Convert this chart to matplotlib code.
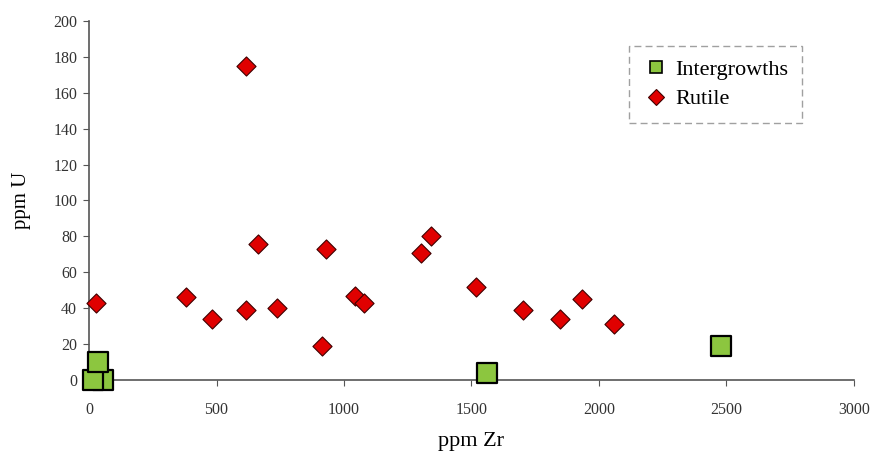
import matplotlib
matplotlib.use("Agg")
import matplotlib.pyplot as plt
from matplotlib.lines import Line2D

plt.rcParams['font.family'] = ['Liberation Serif', 'DejaVu Serif']

# --- data (ppm) ---
rutile_zr = [27, 380, 482, 616, 616, 663, 737, 914, 929, 1043, 1078, 1302, 1341, 1518, 1702, 1847, 1933, 2059]
rutile_u  = [43, 46, 34, 175, 39, 76, 40, 19, 73, 47, 43, 71, 80, 52, 39, 34, 45, 31]

inter_zr = [55, 15, 35, 1561, 2478]
inter_u  = [0, 0, 10, 4, 19]

fig = plt.figure(figsize=(8.73, 4.54), dpi=100)
ax = fig.add_axes([0.102, 0.163, 0.876, 0.791])

ax.scatter(inter_zr, inter_u, marker="s", s=190, facecolor="#8cc63f",
           edgecolor="black", linewidth=1.6, zorder=3, clip_on=False)
ax.scatter(rutile_zr, rutile_u, marker="D", s=95, facecolor="#e00000",
           edgecolor="#400000", linewidth=0.8, zorder=4, clip_on=False)

ax.set_xlim(0, 3000)
ax.set_ylim(0, 200)
ax.set_xticks(range(0, 3001, 500))
ax.set_yticks(range(0, 201, 20))
for s in ["top", "right"]:
    ax.spines[s].set_visible(False)
for s in ["left", "bottom"]:
    ax.spines[s].set_color("#555555")
    ax.spines[s].set_linewidth(1.2)
ax.tick_params(direction="out", length=4, color="#555555", labelsize=11.5,
               labelcolor="#333333")
ax.tick_params(axis="x", pad=12)
ax.tick_params(axis="y", pad=4.5)
ax.set_xlabel("ppm Zr", fontsize=16, labelpad=10)
ax.set_ylabel("ppm U", fontsize=15, labelpad=16)

handles = [
    Line2D([], [], marker="s", linestyle="none", markersize=9,
           markerfacecolor="#8cc63f", markeredgecolor="black", markeredgewidth=1.2),
    Line2D([], [], marker="D", linestyle="none", markersize=8,
           markerfacecolor="#e00000", markeredgecolor="#400000", markeredgewidth=0.8),
]
leg = ax.legend(handles, ["Intergrowths", "Rutile"], loc="upper right",
                bbox_to_anchor=(802 / 873, 1 - 46 / 454),
                bbox_transform=fig.transFigure, fontsize=16, frameon=True,
                fancybox=False, handletextpad=0.3, borderpad=0.6,
                labelspacing=0.4, handlelength=1.2, borderaxespad=0)
frame = leg.get_frame()
frame.set_edgecolor("#888888")
frame.set_linestyle((0, (5, 3)))
frame.set_linewidth(1.0)

fig.savefig("out.png", dpi=100)
